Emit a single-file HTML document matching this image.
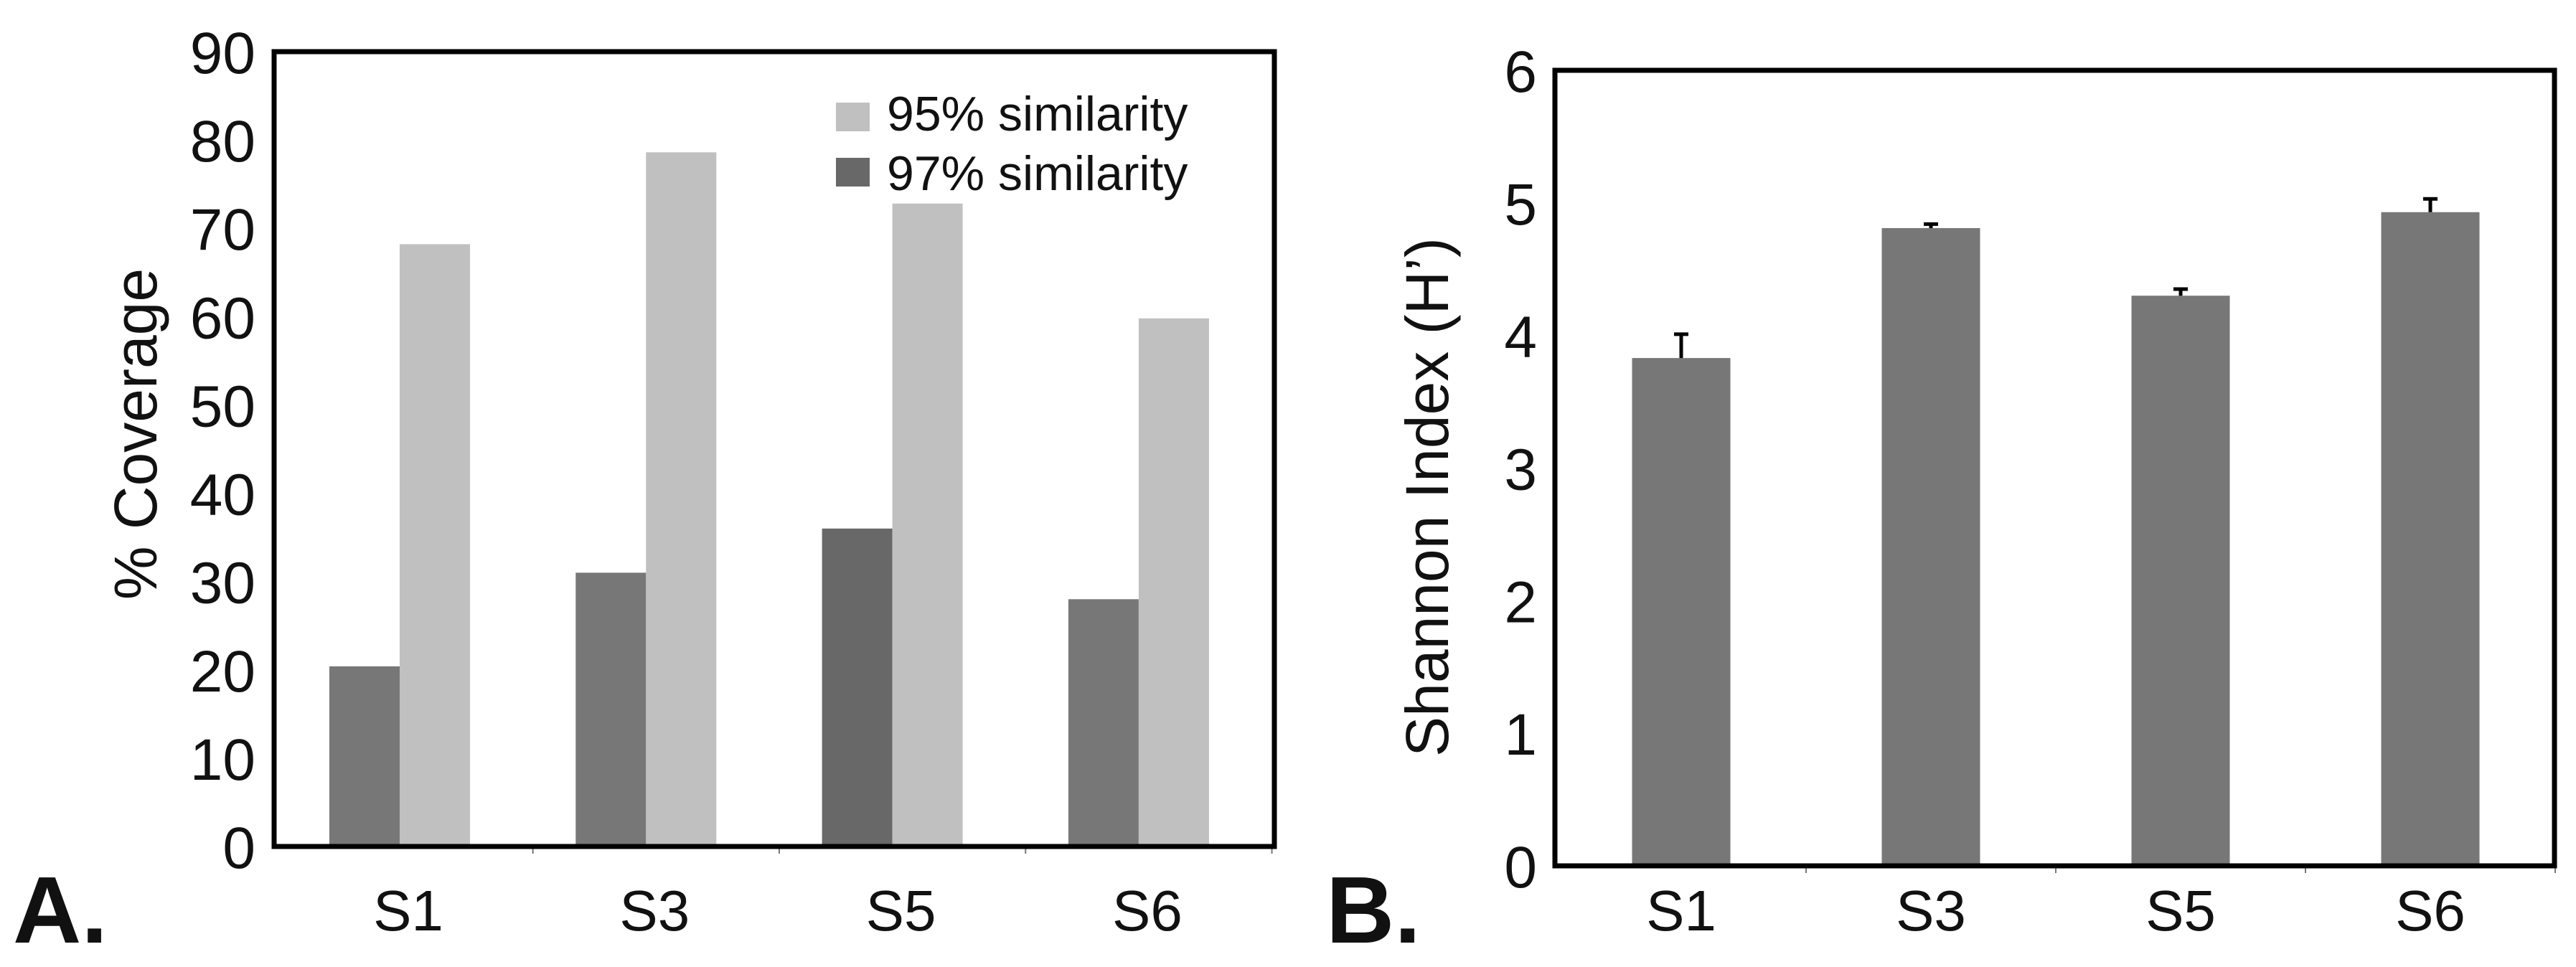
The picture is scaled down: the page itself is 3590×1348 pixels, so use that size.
<!DOCTYPE html>
<html><head><meta charset="utf-8"><style>
html,body{margin:0;padding:0;background:#fff}
svg{display:block}
text{font-family:"Liberation Sans",Arial,sans-serif;fill:#111}
</style></head><body>
<svg id="chart" width="3590" height="1348" viewBox="0 0 3590 1348" xmlns="http://www.w3.org/2000/svg"></svg>
<script>
const categories = ["S1","S3","S5","S6"];
const coverage95 = [68.2, 78.6, 72.8, 59.8];
const coverage97 = [20.4, 31, 36, 28];
const yTicksA = [0,10,20,30,40,50,60,70,80,90];
const shannon = [3.83, 4.81, 4.3, 4.93];
const shannonErr = [0.18, 0.03, 0.05, 0.1];
const yTicksB = [0,1,2,3,4,5,6];

const NS = "http://www.w3.org/2000/svg";
const svg = document.getElementById('chart');
function mk(tag, attrs, parent){const e=document.createElementNS(NS,tag);for(const k in attrs)e.setAttribute(k,attrs[k]);(parent||svg).appendChild(e);return e;}

// Panel A
const A = {l:382,r:1776,t:72,b:1180,max:90,c0:557,step:343.3,bw:98};
const yA = v => A.b - (v/A.max)*(A.b-A.t);
const xA = i => A.c0 + A.step*i;
const gA = mk('g',{});


categories.forEach((c,i)=>{
  const cx = xA(i);
  const d = mk('rect',{x:cx-A.bw,y:yA(coverage97[i]),width:A.bw,height:A.b-yA(coverage97[i]),fill:i===2?'#686868':'#777777'},gA);
  
  
  const l = mk('rect',{x:cx,y:yA(coverage95[i]),width:A.bw,height:A.b-yA(coverage95[i]),fill:'#c0c0c0'},gA);
  
  
  const t = mk('text',{x:cx+12,y:1297,'font-size':80,'text-anchor':'middle'},gA);
  t.textContent=c;
  
  
  const tx = cx + A.step/2 + 14;
  mk('line',{x1:tx,x2:tx,y1:A.b,y2:A.b+10,stroke:'#777','stroke-width':2},gA);
});
yTicksA.forEach(v=>{
  const t = mk('text',{x:356,y:yA(v)+30,'font-size':82,'text-anchor':'end'},gA);
  t.textContent=v;
  
  
});
mk('rect',{x:A.l,y:A.t,width:A.r-A.l,height:A.b-A.t,fill:'none',stroke:'#000','stroke-width':7},gA);
const tA = mk('text',{x:0,y:0,'font-size':84,'text-anchor':'middle',transform:'translate(218,605) rotate(-90)'},gA);
tA.textContent='% Coverage';


const lg1 = mk('rect',{x:1165,y:143,width:47,height:40,fill:'#c0c0c0'},gA);


const lt1 = mk('text',{x:1236,y:182,'font-size':68},gA); lt1.textContent='95% similarity';


const lg2 = mk('rect',{x:1165,y:220,width:47,height:40,fill:'#686868'},gA);


const lt2 = mk('text',{x:1236,y:265,'font-size':68},gA); lt2.textContent='97% similarity';


const pa = mk('text',{x:18,y:1314,'font-size':132,'font-weight':'bold'},gA); pa.textContent='A.';



// Panel B
const B = {l:2167,r:3560,t:98,b:1207,max:6,c0:2343,step:348,bw:137};
const yB = v => B.b - (v/B.max)*(B.b-B.t);
const xB = i => B.c0 + B.step*i;
const gB = mk('g',{});


categories.forEach((c,i)=>{
  const cx = xB(i);
  const r = mk('rect',{x:cx-B.bw/2,y:yB(shannon[i]),width:B.bw,height:B.b-yB(shannon[i]),fill:'#777777'},gB);
  
  
  const top = yB(shannon[i]+shannonErr[i]);
  const e = mk('path',{d:`M${cx},${yB(shannon[i])} V${top} M${cx-10},${top} H${cx+10}`,stroke:'#000','stroke-width':5,fill:'none'},gB);
  
  
  const t = mk('text',{x:cx,y:1297,'font-size':80,'text-anchor':'middle'},gB);
  t.textContent=c;
  
  
  const tx = cx + B.step/2;
  mk('line',{x1:tx,x2:tx,y1:B.b,y2:B.b+10,stroke:'#777','stroke-width':2},gB);
});
yTicksB.forEach(v=>{
  const t = mk('text',{x:2142,y:yB(v)+30,'font-size':82,'text-anchor':'end'},gB);
  t.textContent=v;
  
  
});
mk('rect',{x:B.l,y:B.t,width:B.r-B.l,height:B.b-B.t,fill:'none',stroke:'#000','stroke-width':7},gB);
const tB = mk('text',{x:0,y:0,'font-size':84,'text-anchor':'middle',transform:'translate(2018,693) rotate(-90)'},gB);
tB.textContent='Shannon Index (H’)';


const pb = mk('text',{x:1848,y:1314,'font-size':132,'font-weight':'bold'},gB); pb.textContent='B.';


</script>
</body></html>
